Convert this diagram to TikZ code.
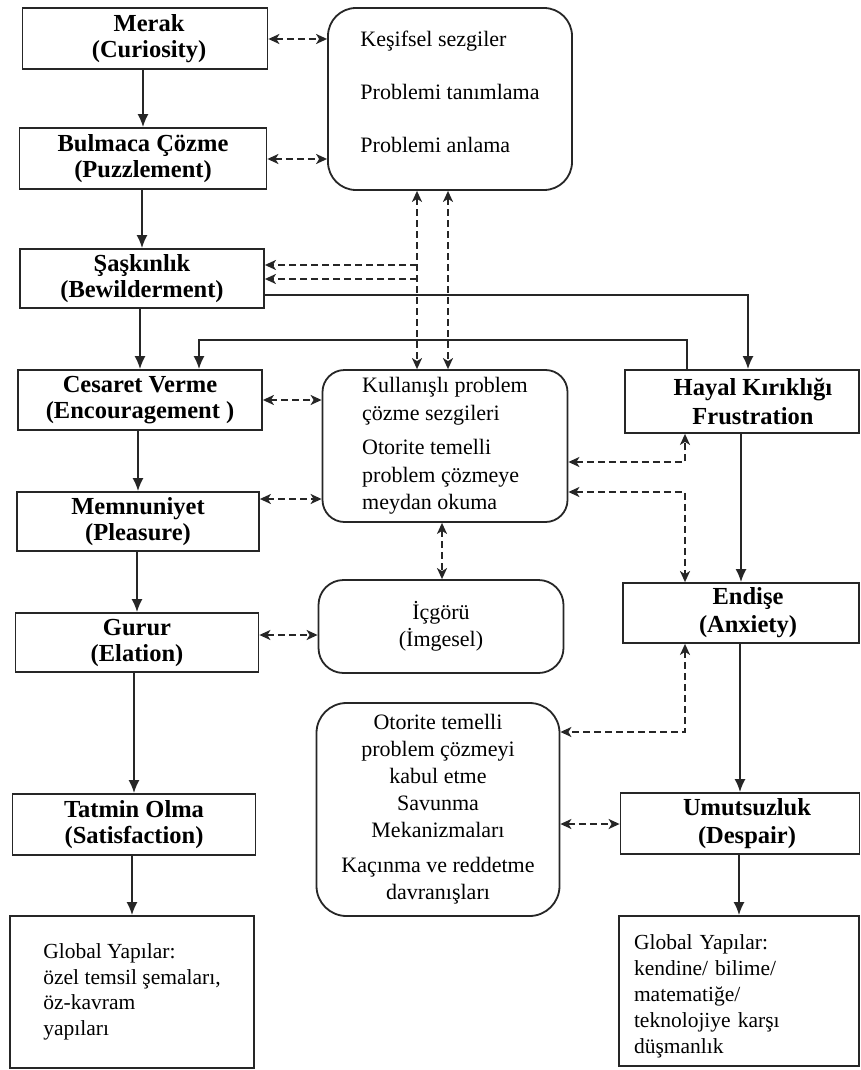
\documentclass[tikz,border=0pt]{standalone}
\usepackage{fontspec}
\setmainfont{Liberation Serif}
\usetikzlibrary{arrows.meta}
\newcommand{\upby}[2]{\raisebox{#1}[\height][\depth]{#2}}
\begin{document}
\begin{tikzpicture}[x=1pt,y=-1pt,
 ebox/.style={draw=black!85,line width=1.8pt,inner sep=0pt,align=center,font=\fontsize{24.5}{26}\selectfont\bfseries},
 rbox/.style={draw=black!85,line width=1.8pt,inner sep=0pt,rounded corners=22pt,font=\fontsize{22}{27.5}\selectfont},
 gbox/.style={draw=black!85,line width=1.8pt,inner sep=0pt,align=left,font=\fontsize{21.5}{25.5}\selectfont},
 arr/.style={draw=black!85,line width=1.8pt,-{Latex[length=13pt,width=11pt]}},
 darr/.style={draw=black!85,line width=1.7pt,dash pattern=on 7pt off 4pt,{Stealth[length=11pt,width=10pt,inset=3pt]}-{Stealth[length=11pt,width=10pt,inset=3pt]}},
 dar/.style={draw=black!85,line width=1.7pt,dash pattern=on 7pt off 4pt,-{Stealth[length=11pt,width=10pt,inset=3pt]}},
]
\fill[white] (0,0) rectangle (861,1070);
\useasboundingbox (0,0) rectangle (861,1070);

% left column
\node[ebox,minimum width=245pt,minimum height=61pt] (merak) at (145,38.5) {\hspace*{8pt}Merak\\\hspace*{8pt}(Curiosity)};
\node[ebox,minimum width=247pt,minimum height=61pt] (bulmaca) at (143,158.5) {Bulmaca Çözme\\(Puzzlement)};
\node[ebox,minimum width=244pt,minimum height=59pt] (sask) at (142,278.5) {Şaşkınlık\\(Bewilderment)};
\node[ebox,minimum width=244pt,minimum height=60pt] (cesaret) at (140,400) {Cesaret Verme\\(Encouragement )};
\node[ebox,minimum width=242pt,minimum height=59pt] (memnun) at (138,521.5) {Memnuniyet\\(Pleasure)};
\node[ebox,minimum width=243pt,minimum height=59pt] (gurur) at (137,642.5) {Gurur\\(Elation)};
\node[ebox,minimum width=243pt,minimum height=61pt] (tatmin) at (134,824.5) {Tatmin Olma\\(Satisfaction)};
\node[gbox,minimum width=244pt,minimum height=152pt] (globL) at (132,992) {Global Yapılar:\\özel temsil şemaları,\\öz-kavram\\yapıları};

% middle column
\node[rbox,rounded corners=28pt,font=\fontsize{22}{26}\selectfont,minimum width=244pt,minimum height=182pt] (top) at (450,99) {\upby{5pt}{\begin{tabular}{@{}l@{}}Keşifsel sezgiler\\[27pt]Problemi tanımlama\\[27pt]Problemi anlama\end{tabular}}};
\node[rbox,align=left,minimum width=245pt,minimum height=152pt] (kull) at (445,446) {Kullanışlı problem\\çözme sezgileri\\[7pt]Otorite temelli\\problem çözmeye\\meydan okuma};
\node[rbox,rounded corners=25pt,align=center,minimum width=245pt,minimum height=93pt] (icg) at (441,626.5) {İçgörü\\(İmgesel)};
\node[rbox,rounded corners=30pt,align=center,font=\fontsize{22}{27}\selectfont,minimum width=243pt,minimum height=213pt] (otor) at (438,809.5) {Otorite temelli\\problem çözmeyi\\kabul etme\\Savunma\\Mekanizmaları\\[8pt]Kaçınma ve reddetme\\davranışları};

% right column
\node[ebox,font=\fontsize{24.5}{29}\selectfont\bfseries,minimum width=234pt,minimum height=63pt] (hayal) at (742,401.5) {\hspace*{22pt}Hayal Kırıklığı\\\hspace*{22pt}Frustration};
\node[ebox,font=\fontsize{24.5}{28}\selectfont\bfseries,minimum width=236pt,minimum height=60pt] (endise) at (741,613) {\hspace*{14pt}Endişe\\\hspace*{14pt}(Anxiety)};
\node[ebox,font=\fontsize{24.5}{28}\selectfont\bfseries,minimum width=239pt,minimum height=61pt] (umut) at (740,823.5) {\hspace*{14pt}Umutsuzluk\\\hspace*{14pt}(Despair)};
\node[gbox,font=\fontsize{21.5}{26}\selectfont,text width=210pt,minimum width=240pt,minimum height=150pt] (globR) at (739,991) {\upby{-5pt}{\begin{tabular}{@{}l@{}}Global Yapılar:\\kendine/ bilime/\\matematiğe/\\teknolojiye karşı\\düşmanlık\end{tabular}}};

% helper coordinates
\coordinate (va) at (417,0);
\coordinate (vb) at (448,0);
\coordinate (vc) at (442,0);
\coordinate (vd) at (685,0);
\coordinate (ve) at (748,0);
\coordinate (vf) at (687,0);
\coordinate (vg) at (199,0);
\coordinate (ha) at (0,265);
\coordinate (hb) at (0,279);
\coordinate (hc) at (0,295);
\coordinate (hd) at (0,340);
\coordinate (he) at (0,462);
\coordinate (hf) at (0,492);
\coordinate (hg) at (0,732);
\coordinate (hh) at (0,499);
\coordinate (hi) at (0,635);
\coordinate (hj) at (0,824);
\coordinate (hk) at (0,39);
\coordinate (hl) at (0,159);

% solid connectors
\draw[arr] (bulmaca.north |- merak.south) -- (bulmaca.north);
\draw[arr] (sask.north |- bulmaca.south) -- (sask.north);
\draw[arr] (cesaret.north |- sask.south) -- (cesaret.north);
\draw[arr] (memnun.north |- cesaret.south) -- (memnun.north);
\draw[arr] (gurur.north |- memnun.south) -- (gurur.north);
\draw[arr] (tatmin.north |- gurur.south) -- (tatmin.north);
\draw[arr] (globL.north |- tatmin.south) -- (globL.north);
\draw[arr] (sask.east |- hc) -| (ve |- hayal.north);
\draw[arr] (vf |- hayal.north) |- (vg |- hd) -- (vg |- cesaret.north);
\draw[arr] (endise.north |- hayal.south) -- (endise.north);
\draw[arr] (umut.north |- endise.south) -- (umut.north);
\draw[arr] (globR.north |- umut.south) -- (globR.north);

% dashed connectors
\draw[darr] (merak.east |- hk) -- (top.west |- hk);
\draw[darr] (bulmaca.east |- hl) -- (top.west |- hl);
\draw[darr] (va |- top.south) -- (va |- kull.north);
\draw[darr] (vb |- top.south) -- (vb |- kull.north);
\draw[dar] (va |- ha) -- (sask.east |- ha);
\draw[dar] (va |- hb) -- (sask.east |- hb);
\draw[darr] (cesaret.east) -- (kull.west |- cesaret.east);
\draw[darr] (memnun.east |- hh) -- (kull.west |- hh);
\draw[darr] (gurur.east |- hi) -- (icg.west |- hi);
\draw[darr] (vc |- kull.south) -- (vc |- icg.north);
\draw[darr] (kull.east |- he) -| (vd |- hayal.south);
\draw[darr] (kull.east |- hf) -| (vd |- endise.north);
\draw[darr] (vd |- endise.south) |- (otor.east |- hg);
\draw[darr] (otor.east |- hj) -- (umut.west |- hj);
\end{tikzpicture}
\end{document}
